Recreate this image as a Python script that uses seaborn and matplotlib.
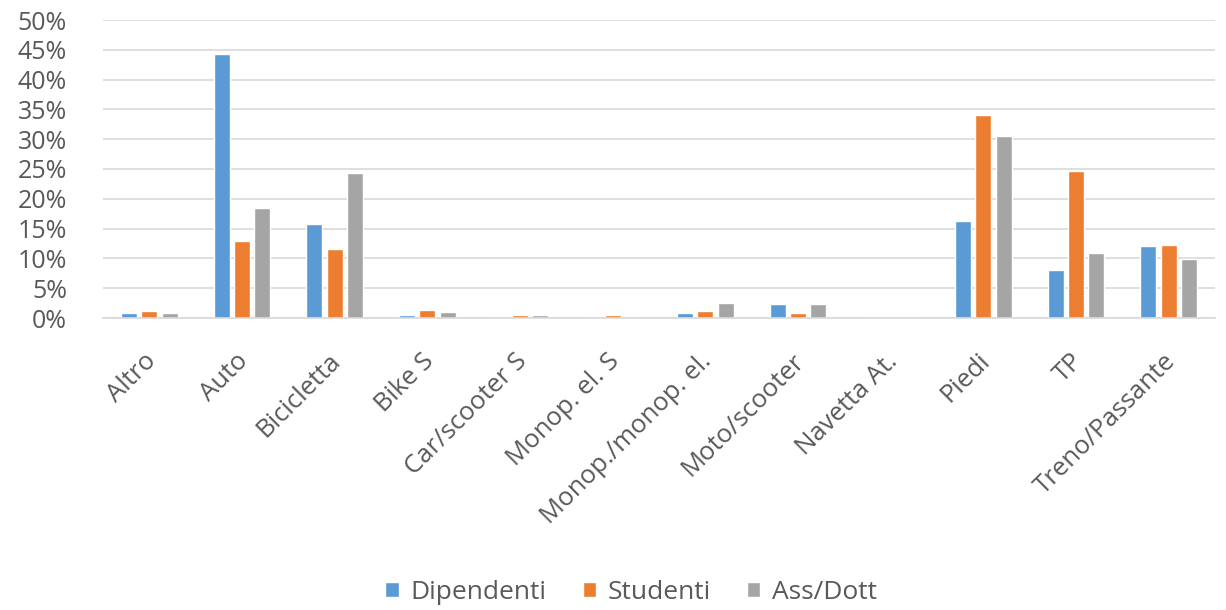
import matplotlib
matplotlib.use("Agg")
import matplotlib.pyplot as plt
import matplotlib.transforms as mtransforms
import seaborn as sns
import pandas as pd
from matplotlib.ticker import PercentFormatter

categories = ["Altro", "Auto", "Bicicletta", "Bike S", "Car/scooter S", "Monop. el. S",
              "Monop./monop. el.", "Moto/scooter", "Navetta At.", "Piedi", "TP", "Treno/Passante"]
dipendenti = [0.8, 44.3, 15.7, 0.5, 0.0, 0.0, 0.8, 2.3, 0.0, 16.2, 8.0, 12.0]
studenti   = [1.1, 12.9, 11.5, 1.3, 0.5, 0.5, 1.1, 0.8, 0.0, 34.1, 24.7, 12.2]
ass_dott   = [0.8, 18.4, 24.4, 1.0, 0.5, 0.0, 2.5, 2.3, 0.0, 30.6, 10.9, 9.9]
series = ["Dipendenti", "Studenti", "Ass/Dott"]
colors = ["#5B9BD5", "#ED7D31", "#A5A5A5"]

rows = []
for name, vals in zip(series, [dipendenti, studenti, ass_dott]):
    for c, v in zip(categories, vals):
        rows.append({"cat": c, "serie": name, "val": v / 100})
df = pd.DataFrame(rows)

sns.set_theme(style="white")
plt.rcParams['font.family'] = ['Open Sans', 'DejaVu Sans']

fig = plt.figure(figsize=(12.26, 6.10), dpi=100)
ax = fig.add_axes([103 / 1226, 1 - 318 / 610, 1112 / 1226, 298 / 610])
sns.barplot(data=df, x="cat", y="val", hue="serie", order=categories, hue_order=series,
            palette=colors, width=0.66, gap=0.22, ax=ax, saturation=1, legend=True)

ax.set_ylim(0, 0.5)
ax.set_yticks([i * 0.05 for i in range(11)])
ax.yaxis.set_major_formatter(PercentFormatter(1.0, decimals=0))
ax.grid(axis="y", color="#D9D9D9", linewidth=1.2)
ax.set_axisbelow(True)
for s in ["top", "right", "left"]:
    ax.spines[s].set_visible(False)
ax.spines["bottom"].set_color("#D9D9D9")
ax.spines["bottom"].set_linewidth(1.2)
ax.set_xlabel("")
ax.set_ylabel("")
ax.tick_params(axis="y", labelsize=18, colors="#595959", length=0, pad=26)
ax.tick_params(axis="x", labelsize=18.5, colors="#595959", length=0, pad=22)
offset = mtransforms.ScaledTranslation(-0.06, 0, fig.dpi_scale_trans)
for lbl in ax.get_xticklabels():
    lbl.set_rotation(45)
    lbl.set_ha("right")
    lbl.set_rotation_mode("anchor")
    lbl.set_transform(lbl.get_transform() + offset)

leg = ax.legend(loc="center", bbox_to_anchor=(0.475, -0.92), ncol=3, frameon=False,
                fontsize=19, handlelength=0.5, handleheight=0.5, columnspacing=1.37,
                handletextpad=0.45)
for t in leg.get_texts():
    t.set_color("#595959")

fig.savefig("out.png", dpi=100)
